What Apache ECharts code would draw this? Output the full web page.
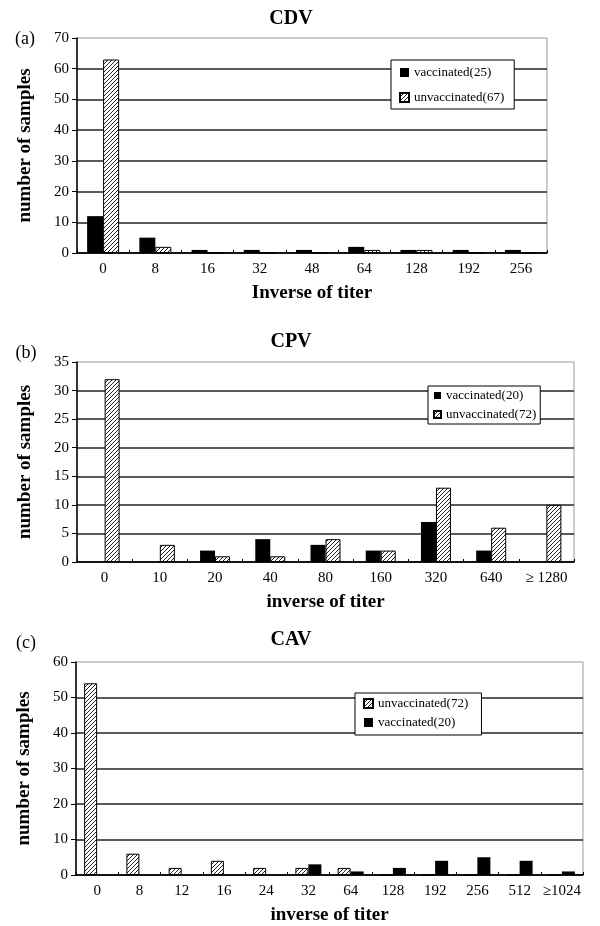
<!DOCTYPE html>
<html>
<head>
<meta charset="utf-8">
<script src="https://cdn.jsdelivr.net/npm/echarts@6/dist/echarts.min.js"></script>
<style>
html,body{margin:0;padding:0;background:#fff;}
#main{width:600px;height:926px;}
</style>
</head>
<body>
<div id="main"></div>
<script>
// ---- data ----
const cdvCats = ['0','8','16','32','48','64','128','192','256'];
const cdvVacc = [12,5,1,1,1,2,1,1,1];
const cdvUnvacc = [63,2,0,0,0,1,1,0,0];

const cpvCats = ['0','10','20','40','80','160','320','640','≥ 1280'];
const cpvVacc = [0,0,2,4,3,2,7,2,0];
const cpvUnvacc = [32,3,1,1,4,2,13,6,10];

const cavCats = ['0','8','12','16','24','32','64','128','192','256','512','≥1024'];
const cavUnvacc = [54,6,2,4,2,2,2,0,0,0,0,0];
const cavVacc = [0,0,0,0,0,3,1,2,4,5,4,1];

const yMax = [70, 35, 60];
const yStep = [10, 5, 10];

// ---- styling ----
const SERIF = '"Liberation Serif", "DejaVu Serif", serif';

function hatchCanvas(){
  const s = 4;
  const c = document.createElement('canvas');
  c.width = s; c.height = s;
  const g = c.getContext('2d');
  g.fillStyle = '#fff'; g.fillRect(0,0,s,s);
  g.strokeStyle = '#222'; g.lineWidth = 1;
  g.beginPath();
  g.moveTo(0,s); g.lineTo(s,0);
  g.moveTo(-1,1); g.lineTo(1,-1);
  g.moveTo(s-1,s+1); g.lineTo(s+1,s-1);
  g.stroke();
  return c;
}
const hatch = {image: hatchCanvas(), repeat: 'repeat'};

const grids = [
  {left: 77, top: 38, width: 470, height: 215},
  {left: 77, top: 362, width: 497, height: 200},
  {left: 76, top: 662, width: 507, height: 214}
];
const xNames = ['Inverse of titer', 'inverse of titer', 'inverse of titer'];
const cats = [cdvCats, cpvCats, cavCats];

function splitColors(i){
  const n = yMax[i]/yStep[i] + 1;
  const arr = [];
  for (let k = 0; k < n; k++) arr.push(k === n-1 ? 'rgba(0,0,0,0)' : '#222');
  return arr;
}

const legendBase = {orient: 'vertical', icon: 'rect', borderColor: '#000', borderWidth: 1, backgroundColor: '#fff',
  textStyle: {fontFamily: SERIF, fontSize: 13, color: '#000'}};

const option = {
  animation: false,
  backgroundColor: '#fff',
  textStyle: {fontFamily: SERIF},
  grid: grids.map(g => Object.assign({show: true, borderColor: '#999', borderWidth: 1, backgroundColor: '#fff'}, g)),
  xAxis: cats.map((c, i) => ({
    type: 'category', gridIndex: i, data: c,
    axisLine: {show: true, lineStyle: {color: '#000', width: 1.5}},
    axisTick: {show: true, inside: true, length: 3, lineStyle: {color: '#000'}},
    axisLabel: {interval: 0, color: '#000', fontFamily: SERIF, fontSize: 15, margin: 9},
    name: xNames[i], nameLocation: 'middle', nameGap: 31,
    nameTextStyle: {color: '#000', fontFamily: SERIF, fontWeight: 'bold', fontSize: 19}
  })),
  yAxis: [0,1,2].map(i => ({
    type: 'value', gridIndex: i, min: 0, max: yMax[i], interval: yStep[i],
    axisLine: {show: true, lineStyle: {color: '#000', width: 1.5}},
    axisTick: {show: true, length: 5, lineStyle: {color: '#000'}},
    axisLabel: {color: '#000', fontFamily: SERIF, fontSize: 15, margin: 8},
    splitLine: {show: true, lineStyle: {color: splitColors(i), width: 1.5}},
    name: 'number of samples', nameLocation: 'middle', nameGap: 42, nameRotate: 90,
    nameTextStyle: {color: '#000', fontFamily: SERIF, fontWeight: 'bold', fontSize: 19}
  })),
  legend: [
    Object.assign({}, legendBase, {left: 391, top: 60, padding: [6, 10, 5, 8], itemGap: 12,
     itemWidth: 9, itemHeight: 9, data: ['vaccinated(25)', 'unvaccinated(67)']}),
    Object.assign({}, legendBase, {left: 428, top: 386, padding: [3, 4, 3, 5], itemGap: 6,
     itemWidth: 7, itemHeight: 7, data: ['vaccinated(20)', 'unvaccinated(72)']}),
    Object.assign({}, legendBase, {left: 355, top: 693, padding: [4, 10, 6, 8], itemGap: 6,
     itemWidth: 9, itemHeight: 9, data: ['unvaccinated(72) ', 'vaccinated(20) ']})
  ],
  series: [
    {name: 'vaccinated(25)', type: 'bar', xAxisIndex: 0, yAxisIndex: 0, data: cdvVacc,
     barWidth: 16, barGap: '0%', itemStyle: {color: '#000'}},
    {name: 'unvaccinated(67)', type: 'bar', xAxisIndex: 0, yAxisIndex: 0, data: cdvUnvacc,
     barWidth: 16, barGap: '0%', itemStyle: {color: hatch, borderColor: '#000', borderWidth: 1}},
    {name: 'vaccinated(20)', type: 'bar', xAxisIndex: 1, yAxisIndex: 1, data: cpvVacc,
     barWidth: 15, barGap: '0%', itemStyle: {color: '#000'}},
    {name: 'unvaccinated(72)', type: 'bar', xAxisIndex: 1, yAxisIndex: 1, data: cpvUnvacc,
     barWidth: 15, barGap: '0%', itemStyle: {color: hatch, borderColor: '#000', borderWidth: 1}},
    {name: 'unvaccinated(72) ', type: 'bar', xAxisIndex: 2, yAxisIndex: 2, data: cavUnvacc,
     barWidth: 13, barGap: '0%', itemStyle: {color: hatch, borderColor: '#000', borderWidth: 1}},
    {name: 'vaccinated(20) ', type: 'bar', xAxisIndex: 2, yAxisIndex: 2, data: cavVacc,
     barWidth: 13, barGap: '0%', itemStyle: {color: '#000'}}
  ],
  graphic: [
    {type: 'text', x: 291, y: 19, style: {text: 'CDV', font: 'bold 20px ' + SERIF, fill: '#000', textAlign: 'center', textVerticalAlign: 'middle'}},
    {type: 'text', x: 291, y: 342, style: {text: 'CPV', font: 'bold 20px ' + SERIF, fill: '#000', textAlign: 'center', textVerticalAlign: 'middle'}},
    {type: 'text', x: 291, y: 640, style: {text: 'CAV', font: 'bold 20px ' + SERIF, fill: '#000', textAlign: 'center', textVerticalAlign: 'middle'}},
    {type: 'text', x: 25, y: 39, style: {text: '(a)', font: '18px ' + SERIF, fill: '#000', textAlign: 'center', textVerticalAlign: 'middle'}},
    {type: 'text', x: 26, y: 353, style: {text: '(b)', font: '18px ' + SERIF, fill: '#000', textAlign: 'center', textVerticalAlign: 'middle'}},
    {type: 'text', x: 26, y: 643, style: {text: '(c)', font: '18px ' + SERIF, fill: '#000', textAlign: 'center', textVerticalAlign: 'middle'}}
  ]
};

const chart = echarts.init(document.getElementById('main'), null, {renderer: 'canvas'});
chart.setOption(option);
</script>
</body>
</html>
